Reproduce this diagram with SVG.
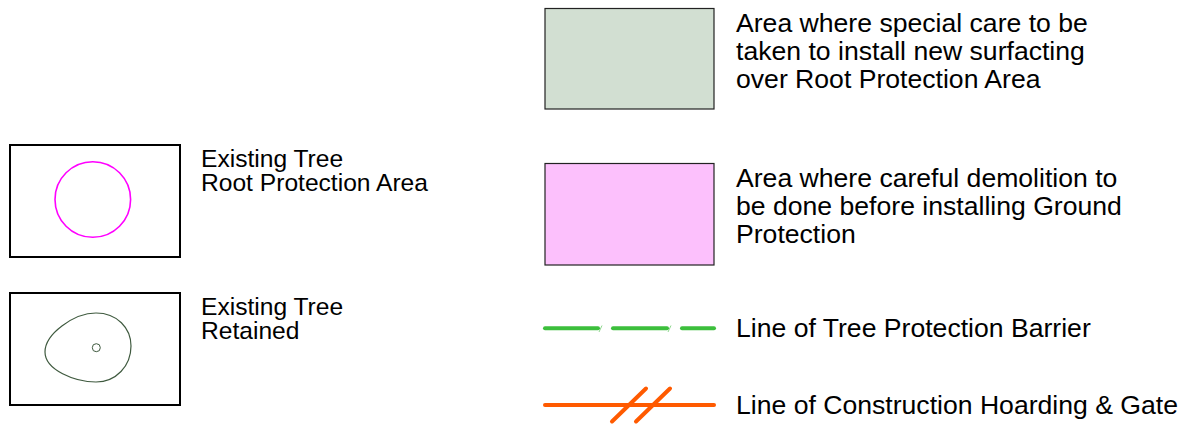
<svg xmlns="http://www.w3.org/2000/svg" width="1191" height="428" viewBox="0 0 1191 428">
<style>
.box{fill:#fff;stroke:#000;stroke-width:2}
.t{font-family:"Liberation Sans",Arial,sans-serif;fill:#000}
.s{font-size:24.6px}
.b{font-size:26.6px}
.area{stroke:#222;stroke-width:1.2}
</style>
<rect width="1191" height="428" fill="#fff"/>
<g id="rpa">
<rect class="box" x="10" y="145" width="170" height="112"/>
<circle cx="92.8" cy="199.5" r="37.8" fill="none" stroke="#f0f" stroke-width="1.6"/>
<text class="t s" x="201" y="166.7">Existing Tree</text>
<text class="t s" x="201" y="190.7">Root Protection Area</text>
</g>
<g id="retained">
<rect class="box" x="10" y="293" width="170" height="112"/>
<path d="M45,352 C45,334 74,313 96,313 C117,313 131,328 131,346 C131,366 116,382 96,382 C75,382 45,370 45,352 Z" fill="none" stroke="#3f5a3f" stroke-width="1.2"/>
<circle cx="96.3" cy="347.7" r="4" fill="none" stroke="#3f5a3f" stroke-width="1"/>
<text class="t s" x="201" y="314.7">Existing Tree</text>
<text class="t s" x="201" y="338.7">Retained</text>
</g>
<g id="surfacing">
<rect class="area" x="545" y="8.5" width="169" height="100.5" fill="#d2dfd2"/>
<text class="t b" x="736" y="31.7">Area where special care to be</text>
<text class="t b" x="736" y="59.5">taken to install new surfacting</text>
<text class="t b" x="736" y="87.7">over Root Protection Area</text>
</g>
<g id="demolition">
<rect class="area" x="545" y="163.5" width="169" height="101.5" fill="#fcc0fc"/>
<text class="t b" x="736" y="187">Area where careful demolition to</text>
<text class="t b" x="736" y="215">be done before installing Ground</text>
<text class="t b" x="736" y="243">Protection</text>
</g>
<g id="connectors">
<g id="barrier">
<g stroke="#3cbf3c" stroke-width="4" stroke-linecap="round" fill="none">
<line x1="545" y1="328.3" x2="598" y2="328.3"/>
<line x1="613" y1="328.3" x2="667" y2="328.3"/>
<line x1="682" y1="328.3" x2="714" y2="328.3"/>
</g>
<g stroke="#8fd88f" stroke-width="1" fill="none">
<line x1="599" y1="332" x2="602" y2="325.5"/>
<line x1="668" y1="332" x2="671" y2="325.5"/>
</g>
</g>
<g id="hoarding" stroke="#ff5a00" stroke-width="4" stroke-linecap="round" fill="none">
<line x1="545" y1="405" x2="714" y2="405"/>
<line x1="612" y1="421.5" x2="646" y2="388.5"/>
<line x1="636" y1="421.5" x2="670" y2="388.5"/>
</g>
</g>
<text class="t b" x="736" y="337">Line of Tree Protection Barrier</text>
<text class="t b" x="736" y="414">Line of Construction Hoarding &amp; Gate</text>
</svg>
